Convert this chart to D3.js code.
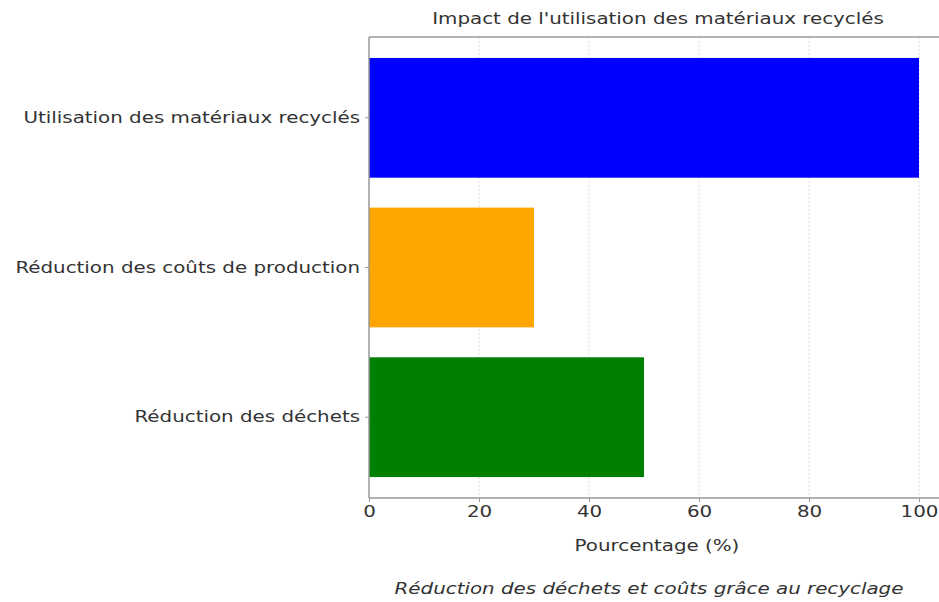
<!DOCTYPE html>
<html>
<head>
<meta charset="utf-8">
<script src="https://cdn.jsdelivr.net/npm/d3@7"></script>
<style>
  html, body { margin: 0; padding: 0; background: #fff; }
  svg { display: block; }
  text { font-family: "DejaVu Sans", sans-serif; fill: #333; }
</style>
</head>
<body>
<script>
// Categories, bottom to top as they are stacked in the plot
const categories = ["Réduction des déchets", "Réduction des coûts de production", "Utilisation des matériaux recyclés"];
const values = [50, 30, 100];
const barColors = ["green", "orange", "blue"];
const xTicks = [0, 20, 40, 60, 80, 100];

const titleText = "Impact de l'utilisation des matériaux recyclés";
const xLabelText = "Pourcentage (%)";
const captionText = "Réduction des déchets et coûts grâce au recyclage";

const W = 939, H = 602;
const plot = { left: 369, top: 37, bottom: 498 };

const svg = d3.select("body").append("svg").attr("width", W).attr("height", H);

// widen DejaVu glyphs a little to get a broader, geometric-looking set
const WIDEN = 1.24;
function widen(sel) {
  sel.each(function () {
    const w = this.getComputedTextLength();
    d3.select(this).attr("textLength", w * WIDEN).attr("lengthAdjust", "spacingAndGlyphs");
  });
}

// x axis runs 0..105 so the 100 bar leaves a small margin on the right
const x = d3.scaleLinear().domain([0, 105]).range([plot.left, plot.left + 5.5 * 105]);
const y = d3.scaleBand()
  .domain(categories.slice().reverse())
  .range([plot.top, plot.bottom])
  .paddingInner(0.2)
  .paddingOuter(0.14);

// dotted vertical grid
svg.append("g")
  .selectAll("line")
  .data(xTicks.filter(d => d > 0))
  .join("line")
  .attr("x1", d => x(d)).attr("x2", d => x(d))
  .attr("y1", plot.top).attr("y2", plot.bottom)
  .attr("stroke", "#dcdcdc")
  .attr("stroke-width", 1)
  .attr("stroke-dasharray", "2,2");

// bars
svg.append("g")
  .selectAll("rect")
  .data(categories)
  .join("rect")
  .attr("x", x(0))
  .attr("y", d => y(d))
  .attr("width", (d, i) => x(values[i]) - x(0))
  .attr("height", y.bandwidth())
  .attr("fill", (d, i) => barColors[i]);

// plot frame (left, top)
const frame = svg.append("g").attr("stroke", "#999").attr("stroke-width", 1.5).attr("fill", "none");
frame.append("line").attr("x1", plot.left).attr("x2", plot.left).attr("y1", plot.top).attr("y2", plot.bottom);
frame.append("line").attr("x1", plot.left).attr("x2", W).attr("y1", plot.top).attr("y2", plot.top);

// x axis
const xAxis = svg.append("g")
  .attr("transform", `translate(0,${plot.bottom})`)
  .call(d3.axisBottom(x).tickValues(xTicks).tickSize(4).tickPadding(4));
xAxis.select(".domain").attr("stroke", "#999").attr("stroke-width", 1.5)
  .attr("d", `M${plot.left},0H${W}`);
xAxis.selectAll(".tick line").attr("stroke", "#999");
xAxis.selectAll(".tick text").style("font-size", "16px").style("font-family", "DejaVu Sans, sans-serif").attr("fill", "#333")
  .call(widen);

// y axis
const yAxis = svg.append("g")
  .attr("transform", `translate(${plot.left},0)`)
  .call(d3.axisLeft(y).tickSize(4).tickPadding(5));
yAxis.select(".domain").remove();
yAxis.selectAll(".tick line").attr("stroke", "#999");
yAxis.selectAll(".tick text").style("font-size", "16px").style("font-family", "DejaVu Sans, sans-serif").attr("fill", "#333")
  .call(widen);

// title
svg.append("text")
  .attr("x", 658).attr("y", 24)
  .attr("text-anchor", "middle")
  .style("font-size", "16px")
  .text(titleText)
  .call(widen);

// x label
svg.append("text")
  .attr("x", 657).attr("y", 551)
  .attr("text-anchor", "middle")
  .style("font-size", "16px")
  .text(xLabelText)
  .call(widen);

// caption
svg.append("text")
  .attr("x", 649).attr("y", 594)
  .attr("text-anchor", "middle")
  .style("font-size", "16px")
  .style("font-style", "italic")
  .text(captionText)
  .call(widen);
</script>
</body>
</html>
